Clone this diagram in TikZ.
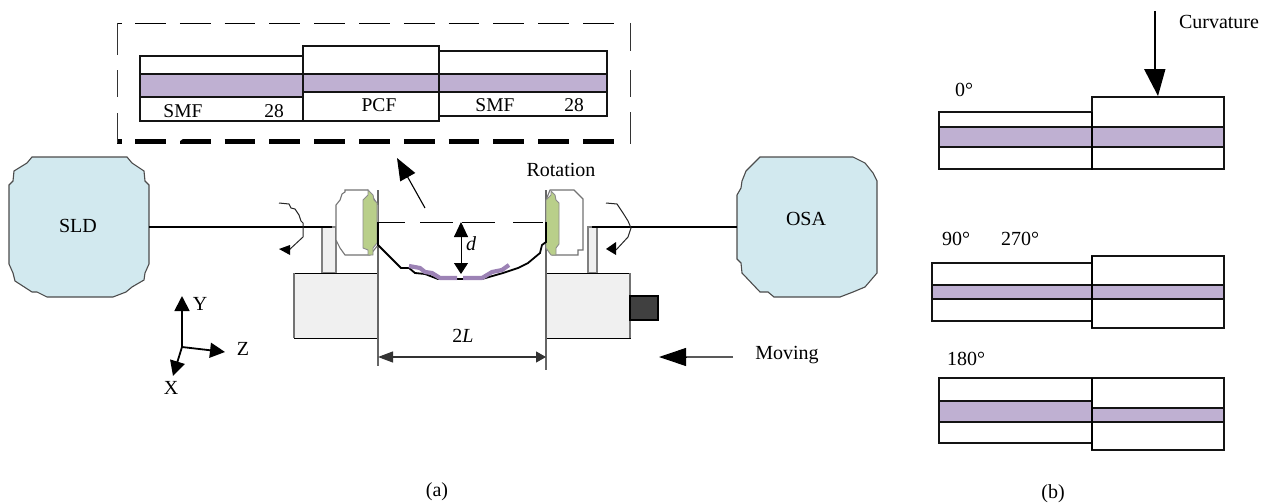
\documentclass[tikz,border=0pt]{standalone}
\usepackage{fontspec}
\setmainfont{Liberation Serif}
\usetikzlibrary{arrows.meta}
\definecolor{boxblue}{HTML}{D2E9EF}
\definecolor{core}{HTML}{BFB0D2}
\definecolor{corethick}{HTML}{9C82B5}
\definecolor{holdgreen}{HTML}{B9CF8A}
\definecolor{stagegray}{HTML}{F0F0F0}
\definecolor{motor}{HTML}{404040}
\newcommand{\fibersec}[6]{% x0 x1 top coretop corebot bottom
  \fill[core] (#1,#4) rectangle (#2,#5);
  \draw[secline] (#1,#3) rectangle (#2,#6);
  \draw[secline] (#1,#4) -- (#2,#4);
  \draw[secline] (#1,#5) -- (#2,#5);
}
\tikzset{
  x=1pt,y=-1pt,
  secline/.style={line width=2.1pt,black!92},
  lab/.style={anchor=base,inner sep=0pt,font=\fontsize{20}{24}\selectfont},
  labs/.style={anchor=base,inner sep=0pt,font=\fontsize{19.5}{24}\selectfont},
  instrument/.style={fill=boxblue,draw=black!70,line width=1.1pt},
  holder/.style={fill=white,draw=black!55,line width=1.1pt},
  greenpart/.style={fill=holdgreen,draw=black!45,line width=.9pt},
  stage/.style={fill=stagegray,draw=black,line width=.9pt},
  pillar/.style={fill=stagegray,draw=black!50,line width=1.2pt},
  fiber/.style={line width=2pt,black},
  thin line/.style={line width=.9pt,black},
  curl/.style={line width=1pt,black!85},
  head/.style={fill=black,draw=none},
  bigtip/.style={-{Triangle[length=22pt,width=17pt]}},
  midtip/.style={-{Triangle[length=15pt,width=15pt]}},
  bothtip/.style={{Triangle[length=15pt,width=14pt]}-{Triangle[length=11pt,width=14pt]}},
}
\begin{document}
\begin{tikzpicture}
\useasboundingbox (0,0) rectangle (1268,503);
% ---- inset dashed frame
\draw[line width=.9pt,black,dash pattern=on 30.8pt off 14pt] (135,23) -- (616,23);
\draw[line width=.9pt,black] (117,23) -- (122,23);
\draw[line width=5pt,black,dash pattern=on 30.8pt off 14pt] (135,141) -- (616,141);
\draw[line width=5pt,black] (117,141) -- (122,141);
\fill[white] (176,144) -- (176,138) -- (184,138) -- cycle;
\fill[white] (263,144) -- (263,138) -- (255,138) -- cycle;
\draw[line width=1pt,black!80] (117,23) -- (117,55) (117,70) -- (117,97) (117,113) -- (117,143);
\draw[line width=1pt,black!80] (630,23) -- (630,51) (630,70) -- (630,97) (630,112) -- (630,144);
% ---- inset fibre
\fibersec{140}{303}{56}{74}{97}{121}
\fibersec{439}{607}{51}{74}{92}{116}
\fibersec{303}{439}{46}{74}{92}{121}
\node[labs] (smfa) at (183,117) {SMF};
\node[labs] (numa) at (274,117) {28};
\node[labs] (pcf) at (379,111) {PCF};
\node[labs] (smfb) at (495,111) {SMF};
\node[labs] (numb) at (574,111) {28};
% ---- instruments
\draw[instrument] (32,157) -- (127,157) -- (132,163) -- (144,171) -- (145,181) -- (149,185) -- (149,264) -- (145,273) -- (144,280) -- (132,287) -- (126,292) -- (113,297) -- (47,297) -- (37,292) -- (32,292) -- (15,281) -- (13,273) -- (9,264) -- (9,185) -- (13,181) -- (14,171) -- (27,163) -- cycle;
\node[lab] (sld) at (78,232) {SLD};
\draw[instrument] (760,157) -- (853,157) -- (865,163) -- (873,173) -- (877,181) -- (877,273) -- (865,287) -- (853,292) -- (840,297) -- (774,297) -- (768,292) -- (760,292) -- (742,273) -- (741,263) -- (737,259) -- (737,195) -- (741,188) -- (742,181) -- (746,171) -- cycle;
\node[lab] (osa) at (806,225) {OSA};
% ---- supports and stages
\draw[pillar] (322,227) rectangle (336,273);
\draw[pillar] (588,227) rectangle (597,273);
\draw[stage] (294,273) rectangle (378,338);
\draw[black!55,line width=1.5pt] (294,273) -- (294,338);
\draw[stage] (546,273) rectangle (630,338);
\draw[black,line width=1.5pt] (546,273) -- (546,338);
\draw[black!55,line width=1.1pt] (630,273) -- (630,338);
\draw[fill=motor,draw=black,line width=2.2pt] (630,296) rectangle (658,320);
% ---- fibre lines
\coordinate (sldE) at (149,227);
\coordinate (holdL) at (332,227);
\coordinate (holdR) at (592,227);
\coordinate (osaW) at (737,227);
\draw[fiber] (sldE) -- (holdL);
\draw[fiber] (holdR) -- (osaW);
% ---- extension lines
\draw[black!60,line width=1.1pt] (378,190) -- (378,366);
\draw[black!60,line width=1.1pt] (546,190) -- (546,370);
% ---- holders
\draw[holder] (345,190) -- (368,190) -- (378,205) -- (378,245) -- (370,255) -- (345,255) -- (340,248) -- (336,240) -- (336,205) -- (340,200) -- (342,194) -- (345,192) -- cycle;
\draw[greenpart] (368,190) -- (373,195) -- (374,200) -- (377,203) -- (377,243) -- (373,248) -- (373,255) -- (368,255) -- (368,250) -- (363,248) -- (363,200) -- (368,195) -- cycle;
\draw[holder] (550,190) -- (574,190) -- (583,199) -- (583,250) -- (578,250) -- (578,255) -- (552,255) -- (546,248) -- (546,200) -- cycle;
\draw[greenpart] (551,191) -- (555,195) -- (556,200) -- (559,203) -- (559,244) -- (556,248) -- (556,255) -- (551,255) -- (546,248) -- (546,200) -- (551,195) -- cycle;
% ---- dashed axis
\draw[thin line] (377,222) -- (405,222) (420,222) -- (453,222) (462,222) -- (495,222) (513,222) -- (543,222);
% ---- bent fibre
\draw[line width=1.8pt,black] (378,222) -- (378,245) -- (401,268) -- (409,268) -- (415,273) -- (425,274) -- (438,279) -- (482,279) -- (503,273) -- (518,268) -- (528,263) -- (540,253) -- (542,245) -- (546,242) -- (546,222);
\draw[line width=4.2pt,corethick,line join=round] (409,266) -- (420,268) -- (425,272) -- (432,273) -- (440,278) -- (457,278);
\draw[line width=4.2pt,corethick,line join=round] (463,278) -- (482,278) -- (492,272) -- (502,270) -- (509,265);
% ---- d and 2L
\coordinate (dT) at (461,222);
\coordinate (dB) at (461,274);
\draw[thin line,bothtip] (dT) -- (dB);
\node[lab,font=\fontsize{20}{24}\selectfont\itshape] (dlab) at (471,250) {d};
\coordinate (lenL) at (378,357);
\coordinate (lenR) at (546,357);
\draw[line width=1.1pt,black!80,{Triangle[length=15pt,width=11pt]}-{Triangle[length=10pt,width=11pt]}] (lenL) -- (lenR);
\node[lab] (lenlab) at (463,342) {2\textit{L}};
% ---- rotation
\node[lab] (rot) at (561,176) {Rotation};
\draw[curl] (279,203) -- (289,204) -- (291,208) -- (295,209) -- (299,215) -- (301,221) -- (303,223) -- (303,237) -- (289,250);
\fill[head] (279,249) -- (290,245) -- (290,255) -- cycle;
\draw[curl] (606,203) -- (617,204) -- (623,213) -- (628,221) -- (631,228) -- (628,237) -- (616,250);
\fill[head] (606,249) -- (616,242) -- (616,255) -- cycle;
% ---- zoom arrow
\coordinate (zt) at (425,208);
\coordinate (zh) at (397,158);
\draw[line width=1.1pt,black,bigtip] (zt) -- (zh);
% ---- axes
\coordinate (org) at (182,347);
\coordinate (ay) at (182,296);
\coordinate (az) at (225,352);
\coordinate (ax) at (173,376);
\draw[line width=1.8pt,black,midtip] (org) -- (ay);
\draw[line width=1.8pt,black,midtip] (org) -- (az);
\draw[line width=1.8pt,black,midtip] (org) -- (ax);
\node[lab] (ylab) at (200,310) {Y};
\node[lab] (zlab) at (243,355) {Z};
\node[lab] (xlab) at (171,394) {X};
% ---- moving
\coordinate (mt) at (733,357);
\coordinate (mh) at (659,357);
\draw[line width=1.1pt,black!65] (mt) -- (686,357);
\draw[line width=1pt,black,-{Triangle[length=27pt,width=18pt]}] (686,357) -- (mh);
\node[lab] (mov) at (787,359) {Moving};
% ---- captions
\node[lab] (capa) at (437,496) {(a)};
\node[lab] (capb) at (1053,498) {(b)};
% ---- panel b
\fibersec{939}{1092}{112}{127}{147}{169}
\fibersec{1092}{1224}{97}{127}{147}{169}
\fibersec{932}{1092}{263}{285}{299}{321}
\fibersec{1092}{1224}{256}{285}{299}{328}
\fibersec{939}{1092}{378}{401}{422}{443}
\fibersec{1092}{1224}{378}{408}{422}{450}
\draw[line width=2.8pt] (1092,112) -- (1092,170);
\draw[line width=2.8pt] (1092,256) -- (1092,328);
\draw[line width=2.8pt] (1092,378) -- (1092,450);
\node[lab] (l0) at (964,96) {0°};
\node[lab] (l90) at (956,245) {90°};
\node[lab] (l270) at (1020,245) {270°};
\node[lab] (l180) at (966,365) {180°};
\node[lab] (curv) at (1219,29) {Curvature};
\coordinate (ct) at (1155,11);
\coordinate (cm) at (1155,69);
\draw[line width=1.2pt,black] (ct) -- (cm);
\fill[head] (1144,69) -- (1165.5,69) -- (1158,96) -- cycle;
\end{tikzpicture}
\end{document}
